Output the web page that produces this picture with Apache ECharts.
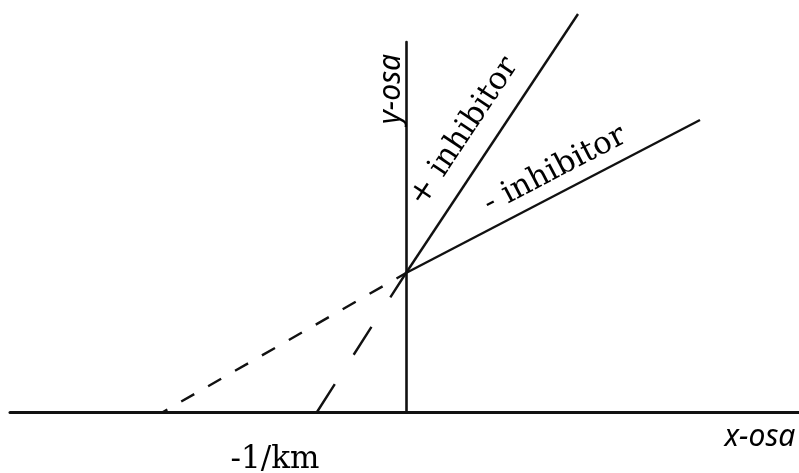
<!DOCTYPE html>
<html>
<head>
<meta charset="utf-8">
<title>Lineweaver–Burk: inhibitor</title>
<script src="https://cdn.jsdelivr.net/npm/echarts@6/dist/echarts.min.js"></script>
<style>
  html, body { margin: 0; padding: 0; background: #fff; }
  #chart { width: 799px; height: 473px; }
</style>
</head>
<body>
<div id="chart"></div>
<script>
// Double-reciprocal plot (x = 1/[S], y = 1/v), arbitrary units
const yIntercept = 1.39;               // shared 1/Vmax
const plusSolid   = [[0, yIntercept], [1.72, 3.98]];   // + inhibitor
const plusDashed  = [[-0.89, 0], [0, yIntercept]];     // extrapolation to -1/Km (app)
const minusSolid  = [[0, yIntercept], [2.94, 2.92]];   // - inhibitor
const minusDashed = [[-2.43, 0], [0, yIntercept]];     // extrapolation to -1/Km

// Text annotations: [x, y, text, rotation, font family, font style]
const serif = '"DejaVu Serif", serif';
const sans = '"Noto Sans", sans-serif';
const annotations = [
  [0.58, 2.80, '+ inhibitor', 56.4, serif, 'normal'],
  [1.49, 2.42, '- inhibitor', 27.5, serif, 'normal'],
  [-0.15, 3.23, 'y-osa', 90, sans, 'italic'],
  [3.54, -0.25, 'x-osa', 0, sans, 'italic'],
  [-1.31, -0.48, '-1/km', 0, serif, 'normal']
];

const ink = '#111';

const lineSeries = (data, dash, offset) => ({
  type: 'line',
  data: data,
  clip: false,
  symbol: 'none',
  silent: true,
  lineStyle: { color: ink, width: 2.4, type: dash, dashOffset: offset || 0 }
});

const chart = echarts.init(document.getElementById('chart'));
chart.setOption({
  animation: false,
  backgroundColor: '#fff',
  grid: { left: 10, right: 0, top: 42, bottom: 61 },
  xAxis: {
    type: 'value', min: -3.96, max: 3.93,
    axisLine: { show: true, onZero: true, lineStyle: { color: ink, width: 3 } },
    axisTick: { show: false }, axisLabel: { show: false }, splitLine: { show: false }
  },
  yAxis: {
    type: 'value', min: 0, max: 3.70,
    axisLine: { show: true, onZero: true, lineStyle: { color: ink, width: 2.6 } },
    axisTick: { show: false }, axisLabel: { show: false }, splitLine: { show: false }
  },
  series: [
    lineSeries(plusSolid, 'solid'),
    lineSeries(minusSolid, 'solid'),
    lineSeries(plusDashed, [33, 35]),
    lineSeries(minusDashed, [15, 16], 10),
    {
      type: 'scatter',
      clip: false,
      silent: true,
      symbolSize: 0,
      itemStyle: { opacity: 0 },
      data: annotations.map(a => ({
        value: [a[0], a[1]],
        label: {
          show: true,
          position: 'inside',
          formatter: a[2],
          rotate: a[3],
          color: '#000',
          opacity: 1,
          textBorderWidth: 0,
          fontFamily: a[4],
          fontStyle: a[5],
          fontSize: a[4] === serif ? 31 : 30,
          align: 'center',
          verticalAlign: 'middle'
        }
      }))
    }
  ]
});
</script>
</body>
</html>
